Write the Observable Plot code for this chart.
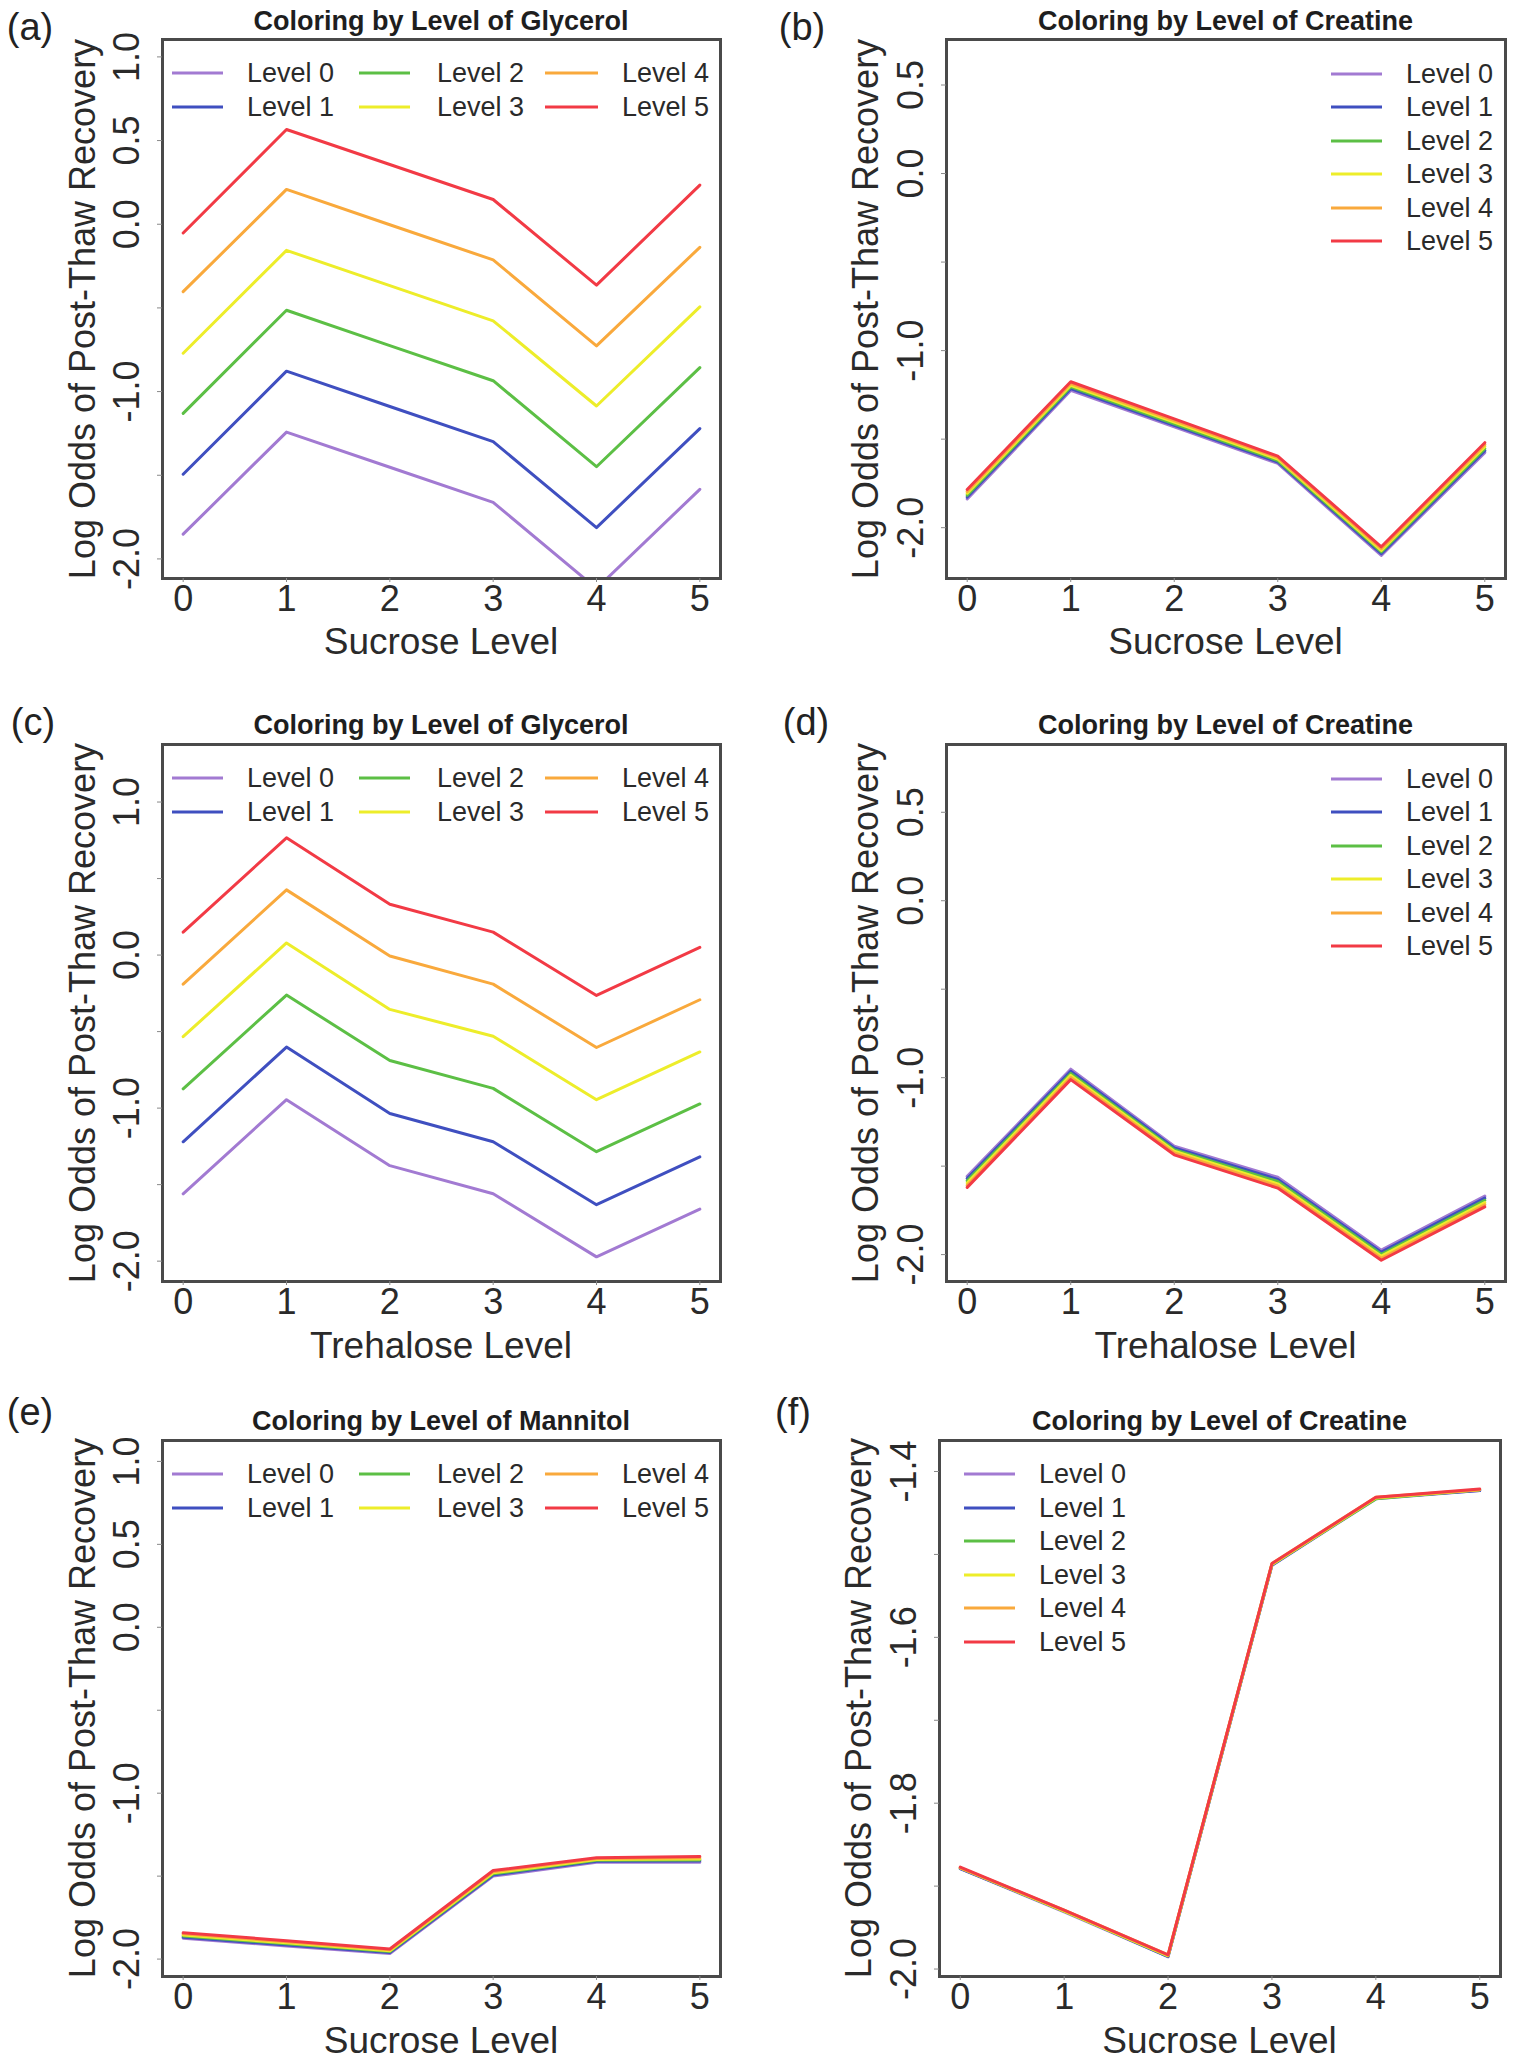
<!DOCTYPE html>
<html>
<head>
<meta charset="utf-8">
<script src="https://cdn.jsdelivr.net/npm/d3@7"></script>
<script src="https://cdn.jsdelivr.net/npm/@observablehq/plot@0.6"></script>
<style>
  html, body { margin: 0; padding: 0; background: #fff; }
  #fig { position: relative; width: 1513px; height: 2065px; overflow: hidden; font-family: "Liberation Sans", Arial, Helvetica, sans-serif; color: #2a2a2a; }
  .cell { position: absolute; }
  .cell svg { overflow: visible; }
  .t { position: absolute; white-space: nowrap; line-height: 1; transform: translate(-50%, -50%); }
  .lg { position: absolute; white-space: nowrap; line-height: 1; transform: translateY(-50%); font-size: 27px; color: #2a2a2a; }
  .ll { position: absolute; height: 3px; transform: translateY(-50%); }
</style>
</head>
<body>
<div id="fig"></div>
<script>
// ---------- data ----------
const xLevels = [0, 1, 2, 3, 4, 5];
const levelNames = ["Level 0", "Level 1", "Level 2", "Level 3", "Level 4", "Level 5"];
const levelColors = ["#a27ad2", "#3f4fc0", "#5cbf45", "#eded2a", "#f9a93c", "#f23a45"];

// (a) Sucrose level, coloured by glycerol level
const a_L0 = [-1.852, -1.242, -1.452, -1.662, -2.177, -1.584];
const a_L1 = [-1.494, -0.878, -1.089, -1.299, -1.813, -1.221];
const a_L2 = [-1.130, -0.514, -0.725, -0.935, -1.449, -0.857];
const a_L3 = [-0.771, -0.156, -0.367, -0.577, -1.086, -0.494];
const a_L4 = [-0.403, 0.208, -0.003, -0.213, -0.727, -0.138];
const a_L5 = [-0.052, 0.566, 0.357, 0.148, -0.364, 0.234];

// (b) Sucrose level, coloured by creatine level
const b_L0 = [-1.838, -1.225, -1.431, -1.637, -2.157, -1.576];
const b_L1 = [-1.827, -1.215, -1.422, -1.629, -2.147, -1.565];
const b_L2 = [-1.816, -1.205, -1.413, -1.621, -2.137, -1.554];
const b_L3 = [-1.805, -1.196, -1.404, -1.612, -2.128, -1.542];
const b_L4 = [-1.795, -1.186, -1.395, -1.604, -2.118, -1.531];
const b_L5 = [-1.784, -1.176, -1.386, -1.596, -2.108, -1.520];

// (c) Trehalose level, coloured by glycerol level
const c_L0 = [-1.560, -0.945, -1.376, -1.560, -1.972, -1.660];
const c_L1 = [-1.220, -0.601, -1.035, -1.220, -1.631, -1.319];
const c_L2 = [-0.874, -0.261, -0.689, -0.871, -1.285, -0.973];
const c_L3 = [-0.533, 0.079, -0.355, -0.530, -0.945, -0.633];
const c_L4 = [-0.190, 0.426, -0.006, -0.190, -0.604, -0.292];
const c_L5 = [0.150, 0.766, 0.332, 0.150, -0.264, 0.051];

// (d) Trehalose level, coloured by creatine level
const d_L0 = [-1.558, -0.952, -1.387, -1.563, -1.975, -1.669];
const d_L1 = [-1.570, -0.964, -1.397, -1.575, -1.986, -1.681];
const d_L2 = [-1.583, -0.976, -1.407, -1.587, -1.998, -1.693];
const d_L3 = [-1.595, -0.987, -1.416, -1.600, -2.009, -1.706];
const d_L4 = [-1.608, -0.999, -1.426, -1.612, -2.021, -1.718];
const d_L5 = [-1.620, -1.011, -1.436, -1.624, -2.032, -1.730];

// (e) Sucrose level, coloured by mannitol level
const e_L0 = [-1.874, -1.921, -1.966, -1.500, -1.416, -1.416];
const e_L1 = [-1.868, -1.915, -1.961, -1.493, -1.411, -1.409];
const e_L2 = [-1.861, -1.908, -1.955, -1.486, -1.405, -1.402];
const e_L3 = [-1.855, -1.902, -1.950, -1.480, -1.400, -1.396];
const e_L4 = [-1.848, -1.895, -1.944, -1.473, -1.394, -1.389];
const e_L5 = [-1.842, -1.889, -1.939, -1.466, -1.389, -1.382];

// (f) Sucrose level, coloured by creatine level
const f_L0 = [-1.879, -1.931, -1.985, -1.513, -1.433, -1.423];
const f_L1 = [-1.879, -1.930, -1.985, -1.513, -1.432, -1.423];
const f_L2 = [-1.878, -1.930, -1.984, -1.512, -1.433, -1.422];
const f_L3 = [-1.878, -1.930, -1.984, -1.512, -1.432, -1.422];
const f_L4 = [-1.878, -1.929, -1.983, -1.511, -1.431, -1.422];
const f_L5 = [-1.877, -1.929, -1.983, -1.511, -1.431, -1.421];

// tick values
const ticksHalf = [-2.0, -1.5, -1.0, -0.5, 0.0, 0.5, 1.0];
const labelsAE = [-2.0, -1.0, 0.0, 0.5, 1.0];
const labelsBD = [-2.0, -1.0, 0.0, 0.5];
const labelsC = [-2.0, -1.0, 0.0, 1.0];
const ticksF = [-2.0, -1.9, -1.8, -1.7, -1.6, -1.5, -1.4];
const labelsF = [-2.0, -1.8, -1.6, -1.4];

const yTitle = "Log Odds of Post-Thaw Recovery";

function rows(series) {
  const out = [];
  series.forEach((vals, li) => vals.forEach((v, i) => out.push({x: xLevels[i], y: v, level: li})));
  return out;
}

// ---------- layout ----------
const panels = [
  {tag: "(a)", cell: [0, 0, 756, 690], box: [162, 720, 39, 578], yDomain: [-2.117, 1.104],
   yTicks: ticksHalf, yLabels: labelsAE, series: [a_L0, a_L1, a_L2, a_L3, a_L4, a_L5],
   title: "Coloring by Level of Glycerol", xTitle: "Sucrose Level", legend: "grid",
   tagPos: [30, 27], titleY: 21, xTitleY: 641, yTitleX: 83},
  {tag: "(b)", cell: [756, 0, 757, 690], box: [946, 1505, 39, 578], yDomain: [-2.287, 0.757],
   yTicks: ticksHalf, yLabels: labelsBD, series: [b_L0, b_L1, b_L2, b_L3, b_L4, b_L5],
   title: "Coloring by Level of Creatine", xTitle: "Sucrose Level", legend: "right",
   tagPos: [802, 27], titleY: 21, xTitleY: 641, yTitleX: 866},
  {tag: "(c)", cell: [0, 690, 756, 690], box: [162, 720, 744, 1281], yDomain: [-2.133, 1.376],
   yTicks: ticksHalf, yLabels: labelsC, series: [c_L0, c_L1, c_L2, c_L3, c_L4, c_L5],
   title: "Coloring by Level of Glycerol", xTitle: "Trehalose Level", legend: "grid",
   tagPos: [33, 722], titleY: 725, xTitleY: 1345, yTitleX: 83},
  {tag: "(d)", cell: [756, 690, 757, 690], box: [946, 1505, 744, 1281], yDomain: [-2.152, 0.883],
   yTicks: ticksHalf, yLabels: labelsBD, series: [d_L0, d_L1, d_L2, d_L3, d_L4, d_L5],
   title: "Coloring by Level of Creatine", xTitle: "Trehalose Level", legend: "right",
   tagPos: [806, 722], titleY: 725, xTitleY: 1345, yTitleX: 866},
  {tag: "(e)", cell: [0, 1380, 756, 685], box: [162, 720, 1440, 1976], yDomain: [-2.105, 1.126],
   yTicks: ticksHalf, yLabels: labelsAE, series: [e_L0, e_L1, e_L2, e_L3, e_L4, e_L5],
   title: "Coloring by Level of Mannitol", xTitle: "Sucrose Level", legend: "grid",
   tagPos: [30, 1412], titleY: 1421, xTitleY: 2040, yTitleX: 83},
  {tag: "(f)", cell: [756, 1380, 757, 685], box: [939, 1500, 1440, 1976], yDomain: [-2.009, -1.3626],
   yTicks: ticksF, yLabels: labelsF, series: [f_L0, f_L1, f_L2, f_L3, f_L4, f_L5],
   title: "Coloring by Level of Creatine", xTitle: "Sucrose Level", legend: "left",
   tagPos: [793, 1412], titleY: 1421, xTitleY: 2040, yTitleX: 859}
];

const fig = document.getElementById("fig");
const FONT = '"Liberation Sans", Arial, Helvetica, sans-serif';

function addText(txt, x, y, css, rotate) {
  const d = document.createElement("div");
  d.className = "t";
  d.textContent = txt;
  d.style.left = x + "px";
  d.style.top = y + "px";
  Object.assign(d.style, css || {});
  if (rotate) d.style.transform = "translate(-50%, -50%) rotate(-90deg)";
  fig.appendChild(d);
}

function addLegendItem(i, x1, x2, tx, y) {
  const l = document.createElement("div");
  l.className = "ll";
  l.style.left = x1 + "px";
  l.style.width = (x2 - x1) + "px";
  l.style.top = y + "px";
  l.style.background = levelColors[i];
  fig.appendChild(l);
  const t = document.createElement("div");
  t.className = "lg";
  t.textContent = levelNames[i];
  t.style.left = tx + "px";
  t.style.top = y + "px";
  fig.appendChild(t);
}

for (const p of panels) {
  const [cl, ct, cw, ch] = p.cell;
  const [bl, br, bt, bb] = p.box;
  const fmt = d => d.toFixed(1);
  const inDomain = v => v >= p.yDomain[0] && v <= p.yDomain[1];
  const chart = Plot.plot({
    width: cw, height: ch,
    marginLeft: bl - cl, marginRight: cl + cw - br,
    marginTop: bt - ct, marginBottom: ct + ch - bb,
    x: {domain: [-0.2, 5.2]},
    y: {domain: p.yDomain},
    color: {type: "ordinal", domain: [0, 1, 2, 3, 4, 5], range: levelColors},
    style: {fontFamily: FONT, fontSize: "36px", background: "transparent", color: "#2a2a2a", overflow: "visible"},
    marks: [
      Plot.line(rows(p.series), {x: "x", y: "y", z: "level", stroke: "level", strokeWidth: 3, clip: true}),
      Plot.frame({stroke: "#4a4a4a", strokeWidth: 3}),
      Plot.axisX({ticks: xLevels, tickSize: 4, tickPadding: 3, stroke: "#888", fill: "#2a2a2a", fontSize: 36, label: null, tickFormat: d => String(d)}),
      Plot.axisY({ticks: p.yTicks.filter(inDomain), tickSize: 5, stroke: "#888", label: null, tickFormat: () => ""}),
      Plot.axisY({ticks: p.yLabels.filter(inDomain), tickSize: 0, tickRotate: -90, tickPadding: 24, fill: "#2a2a2a", fontSize: 36, label: null, tickFormat: fmt})
    ]
  });
  const cellDiv = document.createElement("div");
  cellDiv.className = "cell";
  cellDiv.style.left = cl + "px";
  cellDiv.style.top = ct + "px";
  cellDiv.appendChild(chart);
  fig.appendChild(cellDiv);

  const cx = (bl + br) / 2, cy = (bt + bb) / 2;
  addText(p.tag, p.tagPos[0], p.tagPos[1], {fontSize: "38px", color: "#222"});
  addText(p.title, cx, p.titleY, {fontSize: "27px", fontWeight: "bold", color: "#1e1e1e"});
  addText(p.xTitle, cx, p.xTitleY, {fontSize: "37px", color: "#2a2a2a"});
  addText(yTitle, p.yTitleX, cy, {fontSize: "36px", color: "#2a2a2a"}, true);

  if (p.legend === "grid") {
    const cols = [[bl + 10, bl + 61, bl + 85], [bl + 197, bl + 248, bl + 275], [bl + 383, bl + 436, bl + 460]];
    for (let i = 0; i < 6; i++) {
      const c = cols[Math.floor(i / 2)];
      addLegendItem(i, c[0], c[1], c[2], bt + 34 + (i % 2) * 33.5);
    }
  } else if (p.legend === "right") {
    for (let i = 0; i < 6; i++) addLegendItem(i, br - 174, br - 123, br - 99, bt + 34.5 + i * 33.5);
  } else {
    for (let i = 0; i < 6; i++) addLegendItem(i, bl + 25, bl + 76, bl + 100, bt + 34 + i * 33.6);
  }
}
</script>
</body>
</html>
